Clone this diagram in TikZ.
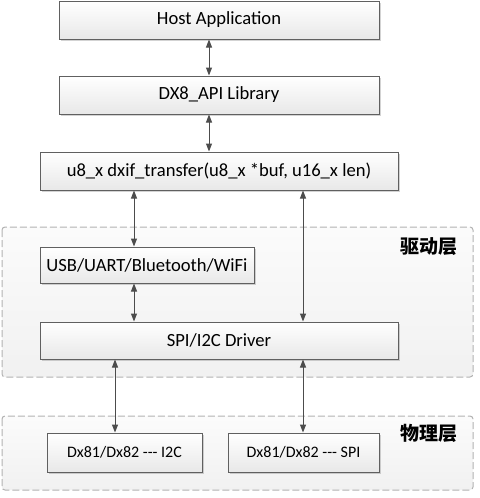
\documentclass[tikz,border=0pt]{standalone}
\usepackage{fontspec}
\setmainfont{Carlito}
\newfontfamily\cjk{Noto Sans CJK SC}
\usepackage{tikz}
\usetikzlibrary{arrows.meta,shadows}

\begin{document}
\begin{tikzpicture}[x=0.5pt,y=-0.5pt,
    block/.style={draw=gray!75!black,line width=0.5pt,top color=white,bottom color=gray!18,
        drop shadow={shadow xshift=0.8pt,shadow yshift=-0.8pt,opacity=0.35},
        minimum height=19pt,inner sep=0pt,font=\fontsize{9.3}{11}\selectfont},
    phys/.style={block,minimum height=19.5pt,font=\fontsize{8}{10}\selectfont},
    layer/.style={draw=gray!60,line width=0.5pt,dash pattern=on 3.5pt off 1.5pt,rounded corners=1.5pt,
        top color=gray!3,bottom color=gray!11},
    tag/.style={anchor=east,font=\cjk\bfseries\fontsize{9.5}{11}\selectfont},
    link/.style={{Triangle[length=4pt,width=3pt]}-{Triangle[length=4pt,width=3pt]},
        draw=black!70,line width=0.5pt}]
    \useasboundingbox (0,0) rectangle (479,498);
    % layers
    \draw[layer] (2,227) rectangle (473,377);
    \draw[layer] (2,416) rectangle (473,490);
    \node[tag] (drvtag) at (465,247) {驱动层};
    \node[tag] (phytag) at (465,433) {物理层};
    % blocks
    \node[block,minimum width=160pt] (host) at (219,20) {Host Application};
    \node[block,minimum width=160pt] (api) at (219,95) {DX8\_API Library};
    \node[block,minimum width=179pt] (trans) at (219,171) {u8\_x dxif\_transfer(u8\_x *buf, u16\_x len)};
    \node[block,minimum width=107pt,minimum height=18pt] (usb) at (147,265) {USB/UART/Bluetooth/WiFi};
    \node[block,minimum width=179pt,minimum height=18.5pt] (drv) at (219,340.5) {SPI/I2C Driver};
    \node[phys,minimum width=77.5pt] (i2c) at (124.5,452.5) {Dx81/Dx82 -{}-{}- I2C};
    \node[phys,minimum width=75.5pt] (spi) at (303.5,452.5) {Dx81/Dx82 -{}-{}- SPI};
    % connectors
    \coordinate (xa) at (209,0);
    \coordinate (xb) at (134,0);
    \coordinate (xc) at (303,0);
    \coordinate (xd) at (115,0);
    \draw[link] (host.south -| xa) -- (api.north -| xa);
    \draw[link] (api.south -| xa) -- (trans.north -| xa);
    \draw[link] (trans.south -| xb) -- (usb.north -| xb);
    \draw[link] (trans.south -| xc) -- (drv.north -| xc);
    \draw[link] (usb.south -| xb) -- (drv.north -| xb);
    \draw[link] (drv.south -| xd) -- (i2c.north -| xd);
    \draw[link] (drv.south -| xc) -- (spi.north -| xc);
\end{tikzpicture}
\end{document}
